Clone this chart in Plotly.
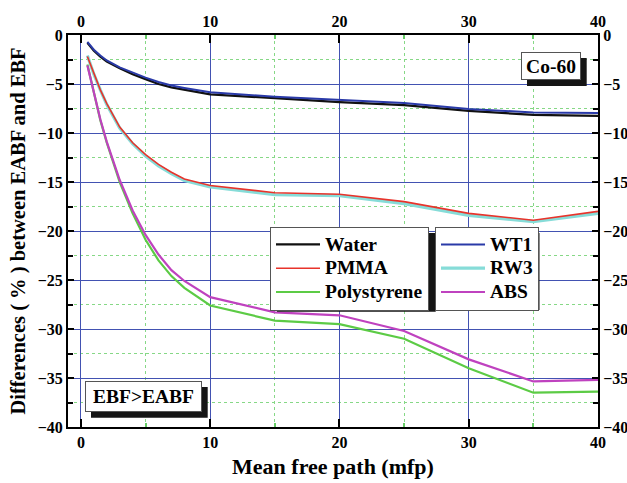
import plotly.graph_objects as go

# Mean free path sampling points (mfp)
mfp = [0.5, 1, 1.5, 2, 3, 4, 5, 6, 7, 8, 10, 15, 20, 25, 30, 35, 40]

# Percent differences between EABF and EBF for each material (Co-60)
water = [-0.8, -1.6, -2.2, -2.7, -3.4, -4.0, -4.5, -5.0, -5.35, -5.6, -6.05,
         -6.45, -6.85, -7.15, -7.75, -8.15, -8.25]
wt1 = [-0.7, -1.5, -2.1, -2.6, -3.3, -3.85, -4.35, -4.8, -5.15, -5.4, -5.85,
       -6.3, -6.6, -6.95, -7.55, -7.9, -7.95]
pmma = [-2.2, -4.0, -5.6, -7.0, -9.4, -11.0, -12.2, -13.2, -14.0, -14.7, -15.35,
        -16.1, -16.25, -17.0, -18.2, -18.9, -18.0]
rw3 = [-2.1, -4.0, -5.6, -7.1, -9.5, -11.1, -12.35, -13.35, -14.15, -14.85, -15.5,
       -16.3, -16.4, -17.2, -18.4, -19.05, -18.2]
polystyrene = [-3.0, -5.9, -8.7, -11.0, -15.0, -18.2, -20.9, -23.0, -24.6, -25.8,
               -27.6, -29.15, -29.5, -31.0, -34.0, -36.5, -36.4]
abs_ = [-3.1, -5.9, -8.6, -10.9, -14.8, -17.9, -20.4, -22.4, -24.0, -25.1,
        -26.75, -28.3, -28.6, -30.2, -33.1, -35.35, -35.2]

x_ticks = [0, 10, 20, 30, 40]
y_ticks = [0, -5, -10, -15, -20, -25, -30, -35, -40]

FONT = "Liberation Serif"
W, H = 627, 483
ML, MR, MT, MB = 68, 29, 35, 56
PW, PH = W - ML - MR, H - MT - MB


def fx(px):
    return (px - ML) / PW


def fy(py):
    return (H - MB - py) / PH


def big(label, size=19.5):
    return f'<span style="font-size:{size}px">{label}</span>'


fig = go.Figure()

series = [
    ("Water", water, "#111111", 2.2, "legend"),
    ("PMMA", pmma, "#e8332b", 1.6, "legend"),
    ("Polystyrene", polystyrene, "#5ccb45", 2.2, "legend"),
    ("WT1", wt1, "#2a3aa8", 2.0, "legend2"),
    ("RW3", rw3, "#86dcd8", 3.2, "legend2"),
    ("ABS", abs_, "#bf42bf", 2.2, "legend2"),
]
rank = {s[0]: i + 1 for i, s in enumerate(series)}
# draw order: the thick cyan goes under red, blue over black
order = ["Water", "WT1", "RW3", "PMMA", "Polystyrene", "ABS"]
lookup = {s[0]: s for s in series}
for name in order:
    n, vals, col, w, lg = lookup[name]
    fig.add_trace(go.Scatter(x=mfp, y=vals, mode="lines", name=big(n),
                             line=dict(color=col, width=w), legend=lg,
                             legendrank=rank[n]))

# secondary axes (top / right) carry the mirrored tick labels
fig.add_trace(go.Scatter(x=[0], y=[0], xaxis="x2", yaxis="y2", mode="markers",
                         marker=dict(opacity=0), showlegend=False, hoverinfo="skip"))

tickfont = dict(family=FONT, size=16, color="black", weight="bold")
major_grid = "#4252b2"
minor_grid = "#86d886"

common_x = dict(range=[-1, 40], tickvals=x_ticks, ticks="inside", ticklen=8,
                tickwidth=1.5, tickcolor="black", showline=True, linecolor="black",
                linewidth=2, zeroline=False, tickfont=tickfont, automargin=False)
common_y = dict(range=[-40, 0], tickvals=y_ticks, ticks="inside", ticklen=6,
                tickwidth=1.5, tickcolor="black", showline=True, linecolor="black",
                linewidth=2, zeroline=False, tickfont=tickfont, automargin=False)

fig.update_layout(
    width=W, height=H, autosize=False,
    margin=dict(l=ML, r=MR, t=MT, b=MB, autoexpand=False),
    paper_bgcolor="white", plot_bgcolor="white",
    xaxis=dict(**common_x, showgrid=True, gridcolor=major_grid, gridwidth=1,
               minor=dict(dtick=5, tick0=0, ticks="inside", ticklen=4,
                          tickcolor="#6c6", showgrid=True, gridcolor=minor_grid,
                          griddash="dot", gridwidth=1),
               title=dict(text="Mean free path (mfp)", standoff=8,
                          font=dict(family=FONT, size=22, color="black",
                                    weight="bold"))),
    yaxis=dict(**common_y, showgrid=True, gridcolor=major_grid, gridwidth=1,
               minor=dict(dtick=2.5, tick0=0, ticks="inside", ticklen=5,
                          tickcolor="black", showgrid=True, gridcolor=minor_grid,
                          griddash="dot", gridwidth=1),
               title=dict(text="Differences ( % ) between EABF and EBF", standoff=6,
                          font=dict(family=FONT, size=20.5, color="black",
                                    weight="bold"))),
    xaxis2=dict(**common_x, overlaying="x", side="top", showgrid=False,
                minor=dict(dtick=5, tick0=0, ticks="inside", ticklen=4,
                           tickcolor="#6c6", showgrid=False)),
    yaxis2=dict(**common_y, overlaying="y", side="right", showgrid=False,
                minor=dict(dtick=2.5, tick0=0, ticks="inside", ticklen=5,
                           tickcolor="black", showgrid=False)),
    showlegend=True,
)

legend_style = dict(xanchor="left", yanchor="top", bgcolor="white",
                    bordercolor="#555555", borderwidth=1, itemwidth=44,
                    tracegroupgap=0, traceorder="normal",
                    font=dict(family=FONT, size=16, color="black", weight="bold"))
fig.update_layout(
    legend=dict(x=fx(270), y=fy(226.5), **legend_style),
    legend2=dict(x=fx(435), y=fy(226.5), **legend_style),
)

# drop shadows behind legend boxes and labels
shadows = [
    (277, 233, 435.7, 311.7),
    (442, 233, 539.5, 310),
    (527, 58, 586.7, 86),
    (91, 387, 207.7, 417.7),
]
for x0, y0, x1, y1 in shadows:
    fig.add_shape(type="rect", xref="paper", yref="paper",
                  x0=fx(x0), x1=fx(x1), y0=fy(y1), y1=fy(y0),
                  fillcolor="#151515", line=dict(width=0), layer="above")

box_font = dict(family=FONT, size=19.5, color="black", weight="bold")
fig.add_annotation(text="Co-60", xref="paper", yref="paper", x=fx(520.7), y=fy(51.7),
                   xanchor="left", yanchor="top", showarrow=False, font=box_font,
                   bgcolor="white", bordercolor="#555555", borderwidth=1, borderpad=0,
                   width=58, height=26)
fig.add_annotation(text="EBF&gt;EABF", xref="paper", yref="paper", x=fx(84.5), y=fy(381),
                   xanchor="left", yanchor="top", showarrow=False, font=box_font,
                   bgcolor="white", bordercolor="#555555", borderwidth=1, borderpad=0,
                   width=115, height=29)

fig.write_html("out.html")
